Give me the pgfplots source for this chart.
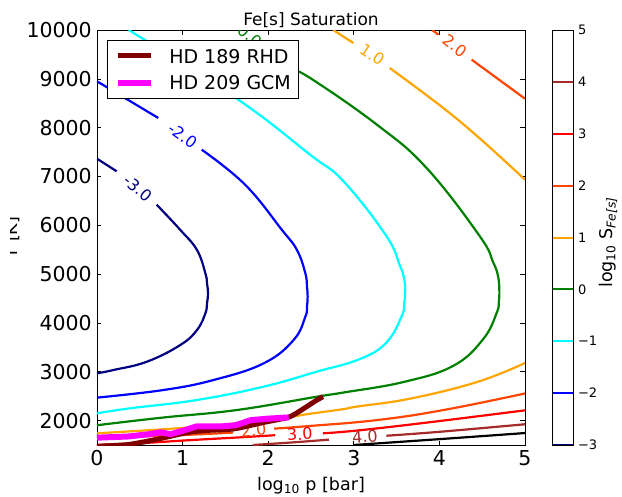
\documentclass[border=0pt]{standalone}
\usepackage{fontspec}
\setmainfont{DejaVu Sans}
\usepackage{pgfplots}
\pgfplotsset{compat=1.18}
\definecolor{cnavy}{HTML}{000080}
\definecolor{cblue}{HTML}{0000FF}
\definecolor{ccyan}{HTML}{00FFFF}
\definecolor{cgreen}{HTML}{008000}
\definecolor{corange}{HTML}{FFA500}
\definecolor{coranred}{HTML}{FF4500}
\definecolor{cred}{HTML}{FF0000}
\definecolor{cbrown}{HTML}{A52A2A}
\definecolor{cmaroon}{HTML}{800000}
\definecolor{cmagenta}{HTML}{FF00FF}
\newcommand{\fs}[1]{\fontsize{#1}{#1}\selectfont}
\tikzset{clab/.style={font=\fs{16}, inner sep=0pt}}
\pgfplotsset{cline/.style={line width=2.2pt, forget plot}}
\begin{document}
\begin{tikzpicture}
\begin{axis}[
  at={(97pt,51pt)}, anchor=south west,
  scale only axis, width=428pt, height=415pt,
  xmin=0, xmax=5, ymin=1500, ymax=10000,
  xtick={0,1,2,3,4,5},
  ytick={2000,3000,4000,5000,6000,7000,8000,9000,10000},
  scaled ticks=false,
  /pgf/number format/1000 sep={},
  /pgf/number format/assume math mode=true,
  tick pos=both, tick align=inside,
  major tick length=4.5pt,
  every tick/.style={black, line width=0.6pt},
  axis line style={black, line width=0.9pt},
  ticklabel style={font=\fs{20.5}},
  xticklabel style={inner sep=0pt, yshift=-5pt},
  yticklabel style={inner sep=0pt, xshift=-5pt},
  every axis title/.style={at={(0.5,1)}, anchor=base, yshift=5pt, font=\fs{17}},
  title={Fe[s] Saturation},
  every axis x label/.style={at={(0.5,0)}, anchor=base, yshift=-45.7pt, font=\fs{17.5}},
  xlabel={log\textsubscript{10} p [bar]},
  legend style={at={(0.0227,0.9766)}, anchor=north west, draw=black, line width=0.9pt,
    fill=white, inner xsep=7.5pt, inner ysep=2.5pt, row sep=0pt, font=\fs{19},
    nodes={inner sep=0pt, text depth=0pt, anchor=west}, cells={anchor=west}},
  legend image code/.code={\path[draw=none,fill=none] (0pt,-13.3pt) rectangle (54.1pt,13.3pt); \draw[#1] (2.5pt,0pt) -- (35.8pt,0pt);},
]
% level -3
\addplot[cnavy, cline, smooth, tension=0.7] coordinates {(0,2968) (0.195,3037) (0.584,3207) (0.974,3549) (1.168,3856) (1.266,4197) (1.285,4402) (1.297,4607) (1.285,4812) (1.266,5017) (1.168,5494) (0.974,5904) (0.697,6422)};
\addplot[cnavy, cline, smooth, tension=0.7] coordinates {(0.23,7106) (0,7364)};
% level -2
\addplot[cblue, cline, smooth, tension=0.7] coordinates {(0,2470) (0.779,2627) (1.363,2832) (1.947,3173) (2.297,3651) (2.434,4129) (2.453,4334) (2.461,4539) (2.453,4743) (2.434,5017) (2.336,5494) (2.161,5904) (1.73,6832) (1.223,7549)};
\addplot[cblue, cline, smooth, tension=0.7] coordinates {(0.716,8198) (0,8949)};
% level -1
\addplot[ccyan, cline, smooth, tension=0.7] coordinates {(0,2150) (0.389,2252) (1.168,2422) (1.947,2695) (2.57,3003) (3.07,3260) (3.38,3596) (3.56,4143) (3.59,4420) (3.60,4690) (3.585,4930) (3.54,5167) (3.38,5781) (2.88,6901) (2.49,7446) (1.65,8573) (0.37,10000)};
% level 0
\addplot[cgreen, cline, smooth, tension=0.7] coordinates {(0,1905) (0.76,2060) (1.636,2217) (2.57,2490) (2.88,2575) (3.58,2790) (4.16,3120) (4.51,3665) (4.67,4210) (4.695,4450) (4.70,4690) (4.685,4960) (4.63,5235) (4.47,5781) (3.85,7174) (3.27,8061) (2.49,9017) (2.22,9249) (2.0,9600)};
% level 1
\addplot[corange, cline, smooth, tension=0.7] coordinates {(0,1740) (1.0,1850) (1.92,1995) (2.49,2140) (2.88,2235) (3.03,2285) (3.66,2450) (4.44,2790) (5,3180)};
\addplot[corange, cline] coordinates {(2.76,10000) (2.995,9734)};
\addplot[corange, cline, smooth, tension=0.7] coordinates {(3.42,9222) (4.045,8403) (4.51,7720) (5,6934)};
% level 2
\addplot[coranred, cline, smooth, tension=0.7] coordinates {(0,1645) (1.0,1705) (1.59,1755)};
\addplot[coranred, cline, smooth, tension=0.7] coordinates {(2.07,1835) (2.49,1890) (3.27,2010) (4.045,2215) (5,2555)};
\addplot[coranred, cline] coordinates {(3.915,10000) (3.99,9904)};
\addplot[coranred, cline] coordinates {(4.377,9392) (5,8593)};
% level 3
\addplot[cred, cline, smooth, tension=0.7] coordinates {(0,1505) (0.48,1535) (1.09,1600) (1.6,1650) (2.08,1700)};
\addplot[cred, cline, smooth, tension=0.7] coordinates {(2.64,1740) (3.03,1795) (3.81,1950) (5,2210)};
% level 4
\addplot[cbrown, cline, smooth, tension=0.7] coordinates {(1.82,1500) (2.3,1555) (2.71,1610)};
\addplot[cbrown, cline, smooth, tension=0.7] coordinates {(3.38,1690) (4.0,1770) (5,1925)};
% level 5
\addplot[black, cline, smooth, tension=0.7] coordinates {(3.0,1500) (4.0,1620) (5,1745)};
% contour labels
\node[clab, text=cnavy, rotate=-40] at (axis cs:0.48,6760) {-3.0};
\node[clab, text=cblue, rotate=-36] at (axis cs:1.0,7840) {-2.0};
\node[clab, text=corange, rotate=-34] at (axis cs:3.215,9494) {1.0};
\node[clab, text=coranred, rotate=-37] at (axis cs:4.18,9675) {2.0};
\node[clab, text=coranred, rotate=5] at (axis cs:1.83,1800) {2.0};
\node[clab, text=cred, rotate=3] at (axis cs:2.37,1720) {3.0};
\node[clab, text=cbrown, rotate=4] at (axis cs:3.13,1670) {4.0};
\begin{scope}
\clip (rel axis cs:0,0) rectangle (rel axis cs:1,1);
\node[clab, text=cgreen, rotate=-38] at (axis cs:1.79,9880) {0.0};
\end{scope}
% trajectories
\addplot[cmaroon, line width=5pt, line join=round, smooth, tension=0.4] coordinates {(0,1470) (0.2,1490) (0.37,1510) (0.56,1568) (0.76,1640) (1.07,1760) (1.3,1800) (1.6,1830) (1.94,1960) (2.24,2070) (2.4,2230) (2.55,2400) (2.64,2490)};
\addlegendentry{HD 189 RHD}
\addplot[cmagenta, line width=6pt, line join=round] coordinates {(0,1650) (0.37,1675) (0.6,1720) (0.74,1760) (0.86,1722) (1.0,1790) (1.16,1880) (1.45,1880) (1.62,1905) (1.8,2010) (2.0,2040) (2.24,2065)};
\addlegendentry{HD 209 GCM}
\end{axis}
% colorbar
\begin{axis}[
  at={(552.7pt,51pt)}, anchor=south west,
  scale only axis, width=20.6pt, height=415pt,
  xmin=0, xmax=1, ymin=-3, ymax=5,
  xtick=\empty, ytick={-3,-2,-1,0,1,2,3,4,5},
  yticklabels={−3,−2,−1,0,1,2,3,4,5},
  ytick pos=right, yticklabel pos=right, tick align=inside,
  major tick length=3pt,
  every tick/.style={black, line width=0.6pt},
  axis line style={black, line width=0.9pt},
  yticklabel style={font=\fs{13}, inner sep=0pt, xshift=4.5pt},
]
\addplot[cnavy, line width=2pt, forget plot] coordinates {(0,-3) (1,-3)};
\addplot[cblue, line width=2pt, forget plot] coordinates {(0,-2) (1,-2)};
\addplot[ccyan, line width=2pt, forget plot] coordinates {(0,-1) (1,-1)};
\addplot[cgreen, line width=2pt, forget plot] coordinates {(0,0) (1,0)};
\addplot[corange, line width=2pt, forget plot] coordinates {(0,1) (1,1)};
\addplot[coranred, line width=2pt, forget plot] coordinates {(0,2) (1,2)};
\addplot[cred, line width=2pt, forget plot] coordinates {(0,3) (1,3)};
\addplot[cbrown, line width=2pt, forget plot] coordinates {(0,4) (1,4)};
\addplot[black, line width=2pt, forget plot] coordinates {(0,5) (1,5)};
\end{axis}
\begin{scope}
\clip (10pt,0pt) rectangle (60pt,496pt);
\node[rotate=90, anchor=base, font=\fs{17.5}, inner sep=0pt] at (17pt,258.5pt) {T [K]};
\end{scope}
\node[rotate=90, font=\fs{17.5}, inner sep=0pt] at (608pt,253.5pt) {log\textsubscript{10} S\textsubscript{\itshape Fe[s]}};
\pgfresetboundingbox
\useasboundingbox (0pt,0pt) rectangle (622pt,496pt);
\end{tikzpicture}
\end{document}
